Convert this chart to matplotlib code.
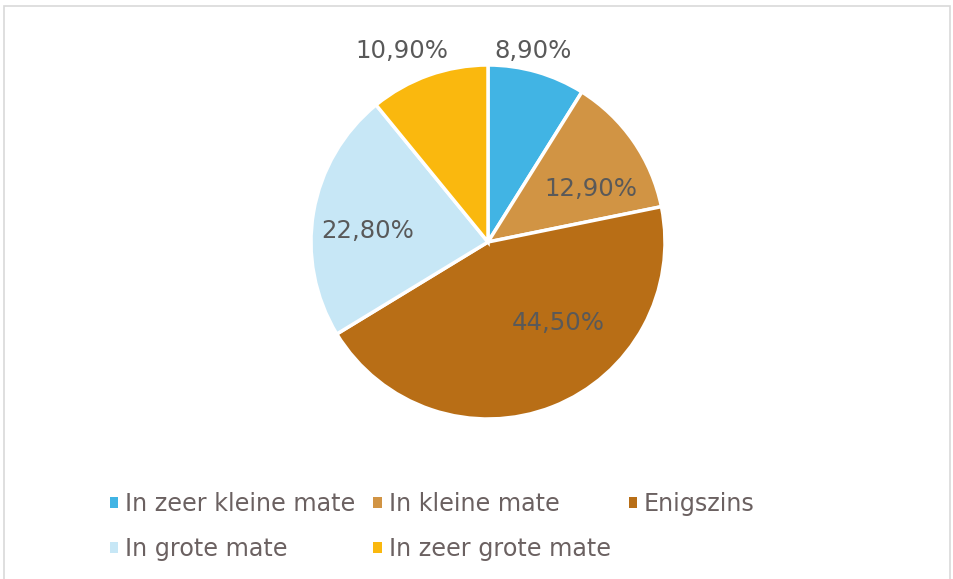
import numpy as np
import matplotlib
matplotlib.use("Agg")
from matplotlib import pyplot as plt
from matplotlib.patches import Rectangle, Patch

labels = ["In zeer kleine mate", "In kleine mate", "Enigszins", "In grote mate", "In zeer grote mate"]
values = [8.9, 12.9, 44.5, 22.8, 10.9]
value_text = ["8,90%", "12,90%", "44,50%", "22,80%", "10,90%"]
colors = ["#41B4E4", "#D19444", "#B86E16", "#C7E7F6", "#FAB80E"]
# label placement: radius (fraction of pie radius) and angle shift from wedge middle (deg)
label_radius = [1.108, 0.654, 0.605, 0.681, 1.186]
label_shift = [2.8, -7.5, 19.4, 4.5, 4.7]

W, H = 954, 579
fig = plt.figure(figsize=(W / 100, H / 100), dpi=100)
plt.rcParams['font.family'] = ['DejaVu Sans']

# chart frame
fig.patches.append(Rectangle((4 / W, -0.01), (946 / W), 1 - 6 / H + 0.01, transform=fig.transFigure,
                             fill=False, edgecolor="#d9d9d9", linewidth=1.2))

cx, cy, r = 488, H - 242, 177
ax = fig.add_axes([(cx - r) / W, (cy - r) / H, 2 * r / W, 2 * r / H])
wedges, _ = ax.pie(values, colors=colors, startangle=90, counterclock=False,
                   wedgeprops=dict(edgecolor="white", linewidth=2.5))
ax.set_xlim(-1, 1)
ax.set_ylim(-1, 1)
ax.set_aspect("equal")
ax.axis("off")

for w, txt, lr, sh in zip(wedges, value_text, label_radius, label_shift):
    ang = np.deg2rad((w.theta1 + w.theta2) / 2 + sh)
    ax.text(lr * np.cos(ang), lr * np.sin(ang), txt, ha="center", va="center",
            fontsize=17.6, color="#595959")

# legend filled column by column -> reorder so it reads row by row
order = [0, 3, 1, 4, 2]
handles = [Patch(facecolor=colors[i], edgecolor="none") for i in order]
fig.legend(handles, [labels[i] for i in order], ncol=3, loc="center left",
           bbox_to_anchor=(110 / W, 1 - 526.5 / H), borderpad=0, borderaxespad=0,
           frameon=False, fontsize=17.2, labelcolor="#6b6161", handlelength=0.34, handleheight=0.34,
           handletextpad=0.3, columnspacing=0.75, labelspacing=0.9)

fig.savefig("out.png", dpi=100)
